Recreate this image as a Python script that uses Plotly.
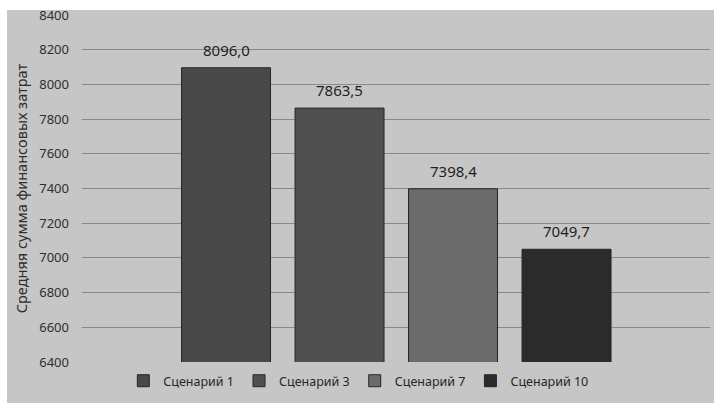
import plotly.graph_objects as go

# Scenario names and mean financial costs
scenarios = ["Сценарий 1", "Сценарий 3", "Сценарий 7", "Сценарий 10"]
mean_costs = [8096.0, 7863.5, 7398.4, 7049.7]
bar_colors = ["#484848", "#505050", "#6b6b6b", "#2b2b2b"]
y_ticks = list(range(6400, 8401, 200))

FONT = "Noto Sans, Open Sans, sans-serif"
BG = "#c6c6c6"

fig = go.Figure()
for name, val, col in zip(scenarios, mean_costs, bar_colors):
    fig.add_trace(go.Bar(
        x=[name], y=[val], name=name, width=0.784,
        marker=dict(color=col, line=dict(color="#262626", width=1)),
        hoverinfo="y",
    ))
    # value label above each bar
    fig.add_annotation(
        x=name, y=val, text=f"{val:.1f}".replace(".", ","),
        showarrow=False, yanchor="bottom", yshift=6,
        font=dict(family=FONT, size=15, color="#1e1e1e"),
    )

# scanned-page frame: gray panel with a thin white strip on top and left
fig.add_shape(type="rect", xref="paper", yref="paper",
              x0=-0.1194, x1=1.2, y0=-0.3, y1=1.0144,
              fillcolor=BG, line=dict(width=0), layer="below")

fig.update_layout(
    width=714, height=403,
    margin=dict(l=82, r=4, t=15, b=41, autoexpand=False),
    paper_bgcolor="white",
    plot_bgcolor="rgba(0,0,0,0)",
    font=dict(family=FONT, size=13, color="#333333"),
    barmode="overlay",
    showlegend=True,
    legend=dict(
        orientation="h", x=0.44, xanchor="center", y=-0.055, yanchor="middle",
        bgcolor="rgba(0,0,0,0)", font=dict(size=12.5, color="#262626"),
        itemwidth=30,
    ),
    xaxis=dict(
        type="category", categoryorder="array", categoryarray=scenarios,
        range=[-1.269, 4.264], showticklabels=False, showgrid=False,
        zeroline=False, showline=False, fixedrange=True,
    ),
    yaxis=dict(
        range=[6400, 8400], tickvals=y_ticks,
        ticktext=[str(v) for v in y_ticks],
        showgrid=True, gridcolor="#8a8a8a", gridwidth=1,
        zeroline=False, showline=False, ticks="",
        ticklabelstandoff=12,
        tickfont=dict(size=13, color="#2e2e2e"),
        title=dict(text="Средняя сумма финансовых затрат", standoff=8,
                   font=dict(size=14.5, color="#2e2e2e")),
    ),
)

fig.write_html("out.html")
